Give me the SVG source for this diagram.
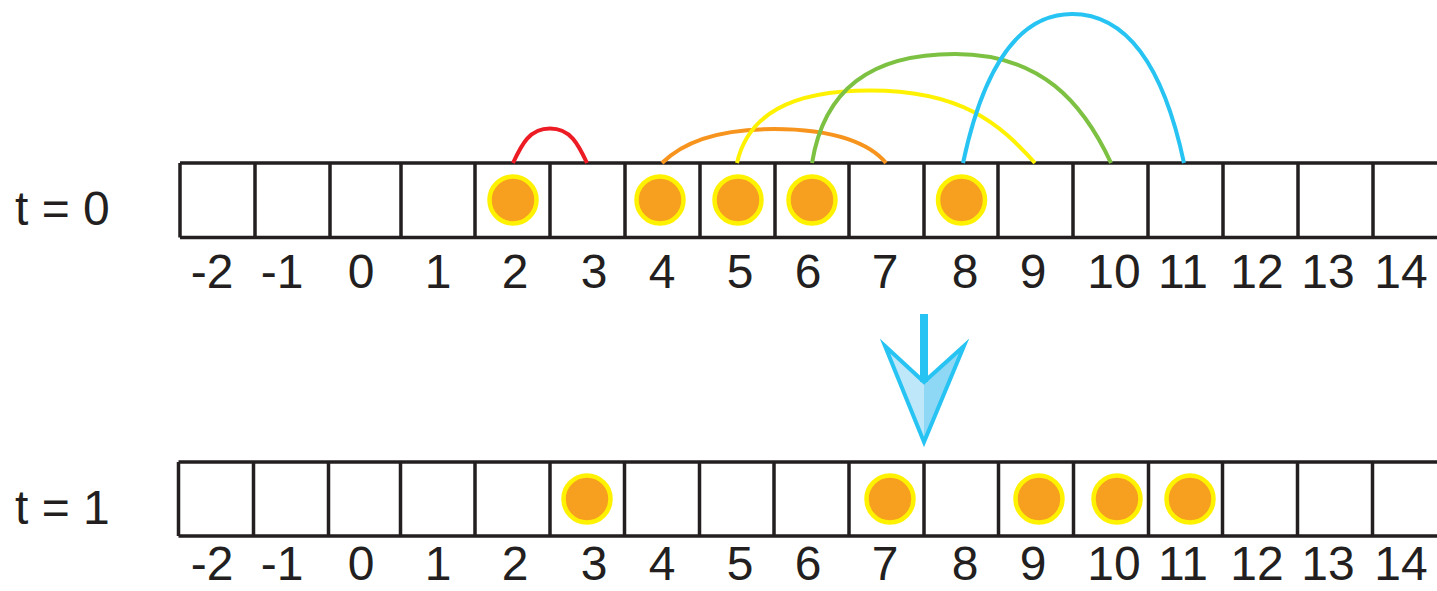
<svg xmlns="http://www.w3.org/2000/svg" width="1437" height="591" viewBox="0 0 1437 591">
<style>
.grid{fill:none;stroke:#231F20;stroke-width:3.5}
.p{fill:#F7A01F;stroke:#FFF200;stroke-width:4.5}
.lbl{font-family:"Liberation Sans",Arial,sans-serif;font-size:48px;fill:#231F20;text-anchor:middle}
.t{font-family:"Liberation Sans",Arial,sans-serif;font-size:48px;fill:#231F20}
.arc{fill:none;stroke-width:4}
</style>
<rect width="1437" height="591" fill="#fff"/>
<g id="row-t0">
<path class="grid" d="M180 163H1437M180 237.5H1437M180 163V237.5M255 163V237.5M330 163V237.5M401 163V237.5M475 163V237.5M550 163V237.5M625 163V237.5M700 163V237.5M775 163V237.5M849 163V237.5M924 163V237.5M998 163V237.5M1073 163V237.5M1148 163V237.5M1223 163V237.5M1298 163V237.5M1373 163V237.5"/>
<text class="t" x="15" y="225">t = 0</text>
<g id="labels-t0">
<text class="lbl" x="212" y="288">-2</text><text class="lbl" x="282" y="288">-1</text><text class="lbl" x="361" y="288">0</text><text class="lbl" x="438" y="288">1</text><text class="lbl" x="515" y="288">2</text><text class="lbl" x="594" y="288">3</text><text class="lbl" x="662" y="288">4</text><text class="lbl" x="740" y="288">5</text><text class="lbl" x="808" y="288">6</text><text class="lbl" x="885" y="288">7</text><text class="lbl" x="965" y="288">8</text><text class="lbl" x="1033" y="288">9</text><text class="lbl" x="1114" y="288">10</text><text class="lbl" x="1183" y="288">11</text><text class="lbl" x="1257" y="288">12</text><text class="lbl" x="1328" y="288">13</text><text class="lbl" x="1401" y="288">14</text>
</g>
</g>
<g id="particles-t0">
<circle class="p" cx="513" cy="200" r="23.5"/>
<circle class="p" cx="660" cy="200" r="23.5"/>
<circle class="p" cx="738" cy="200" r="23.5"/>
<circle class="p" cx="812" cy="200" r="23.5"/>
<circle class="p" cx="961.5" cy="200" r="23.5"/>
</g>
<g id="connectors">
<path class="arc" stroke="#ED1C24" d="M513 163C521.9 144 529.6 128.5 550 128.5C570.4 128.5 578.1 144 587 163"/>
<path class="arc" stroke="#F7941D" d="M662 163C680.8 144.2 712.1 129 774 129C835.9 129 870.2 144.2 886 163"/>
<path class="arc" stroke="#FFF200" d="M737 163C748 115 790 90.5 870 90.5C961.1 90.5 999 123 1035 163"/>
<path class="arc" stroke="#7DC142" d="M812 163C824 90 870 54 955 54C1041.2 54 1083 102.8 1111 163"/>
<path class="arc" stroke="#27C4F3" d="M963 163C980.5 80.7 1011.8 14 1072 14C1133.9 14 1166.5 80.7 1184 163"/>
</g>
<g id="arrow">
<polygon points="885,346 924,382 924,442" fill="#BEE7F9"/>
<polygon points="924,382 964,346 924,442" fill="#8ED8F6"/>
<polygon points="885,346 924,382 964,346 924,442" fill="none" stroke="#27C4F3" stroke-width="4" stroke-linejoin="miter" stroke-miterlimit="10"/>
<rect x="920" y="314" width="8" height="68" fill="#27C4F3"/>
</g>
<g id="row-t1">
<path class="grid" d="M178.5 462H1437M178.5 536H1437M178.5 462V536M253.5 462V536M328.5 462V536M400.5 462V536M475 462V536M550 462V536M624.5 462V536M699.5 462V536M774 462V536M849 462V536M924 462V536M998.5 462V536M1073.5 462V536M1148.5 462V536M1222.5 462V536M1297.5 462V536M1372.5 462V536"/>
<text class="t" x="15" y="524">t = 1</text>
<g id="labels-t1">
<text class="lbl" x="212" y="580">-2</text><text class="lbl" x="282" y="580">-1</text><text class="lbl" x="361" y="580">0</text><text class="lbl" x="438" y="580">1</text><text class="lbl" x="515" y="580">2</text><text class="lbl" x="594" y="580">3</text><text class="lbl" x="662" y="580">4</text><text class="lbl" x="740" y="580">5</text><text class="lbl" x="808" y="580">6</text><text class="lbl" x="885" y="580">7</text><text class="lbl" x="965" y="580">8</text><text class="lbl" x="1033" y="580">9</text><text class="lbl" x="1114" y="580">10</text><text class="lbl" x="1183" y="580">11</text><text class="lbl" x="1257" y="580">12</text><text class="lbl" x="1328" y="580">13</text><text class="lbl" x="1401" y="580">14</text>
</g>
</g>
<g id="particles-t1">
<circle class="p" cx="587" cy="499" r="23.5"/>
<circle class="p" cx="890" cy="499" r="23.5"/>
<circle class="p" cx="1039" cy="499" r="23.5"/>
<circle class="p" cx="1117" cy="499" r="23.5"/>
<circle class="p" cx="1190" cy="499" r="23.5"/>
</g>
</svg>
